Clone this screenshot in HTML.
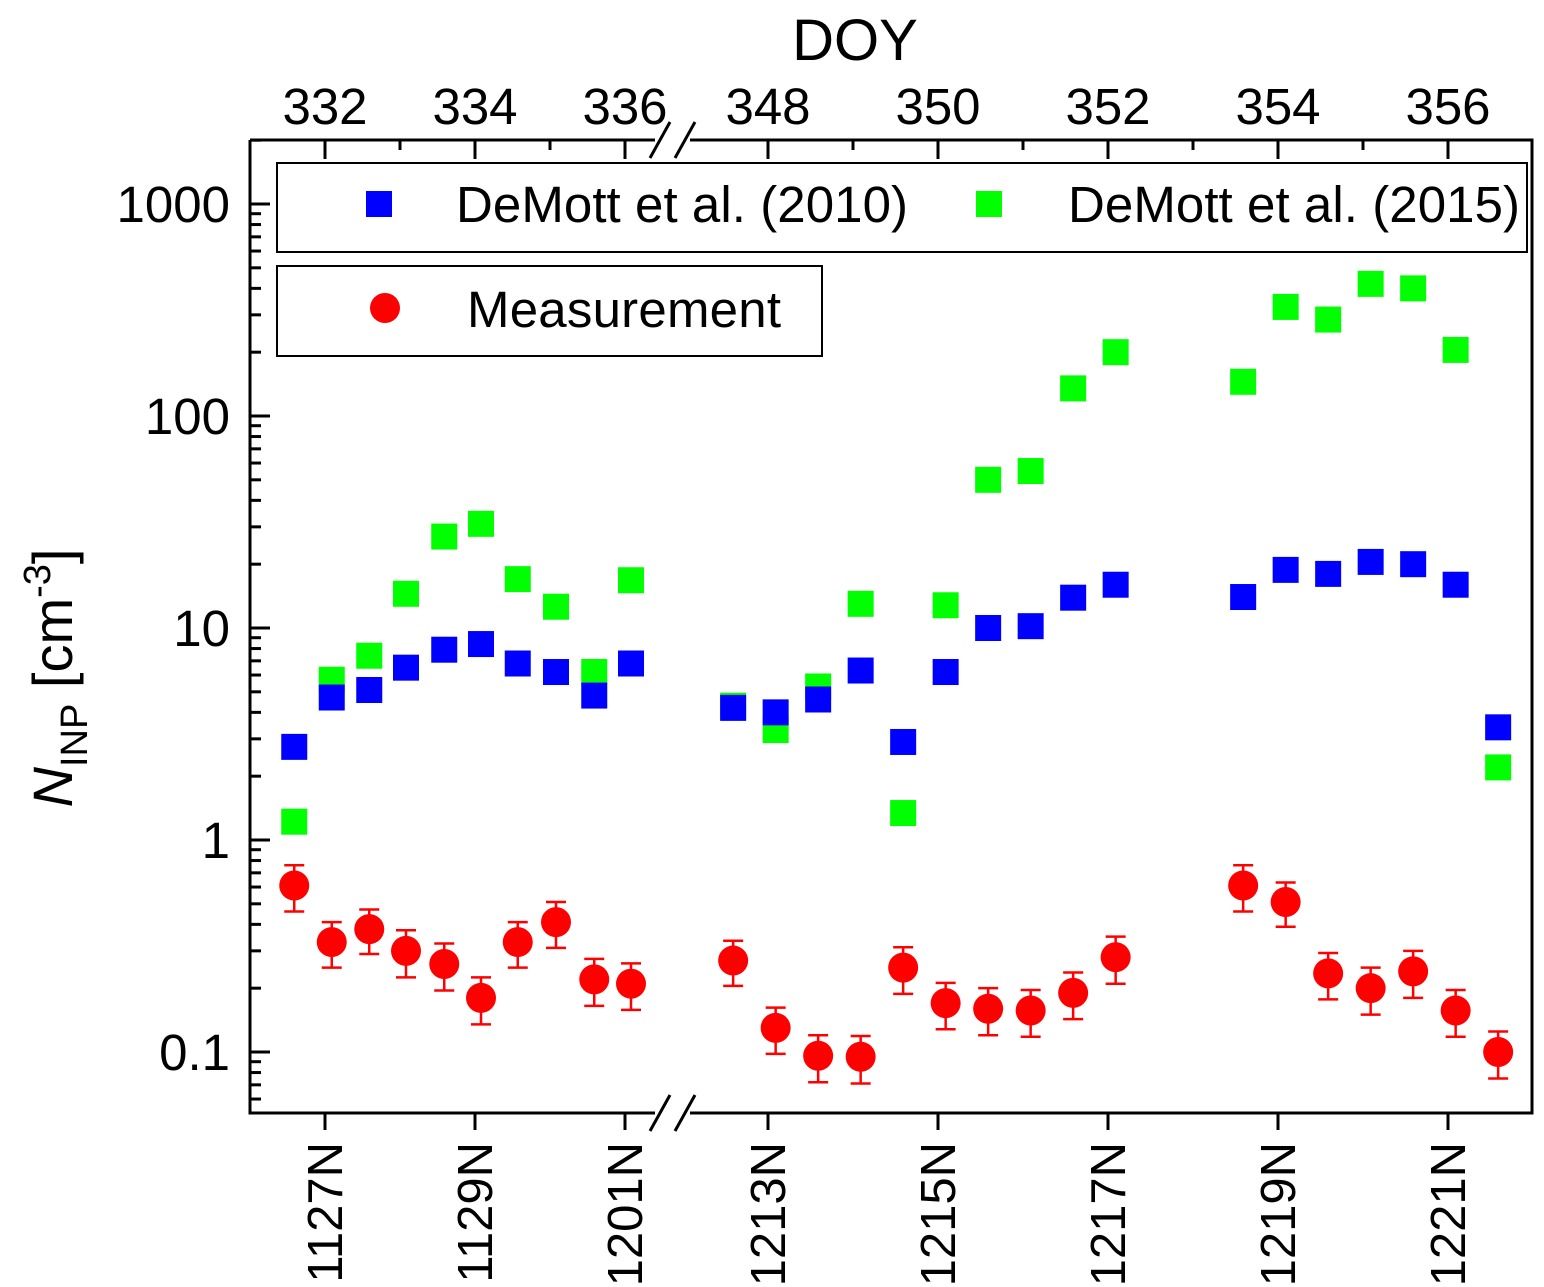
<!DOCTYPE html>
<html><head><meta charset="utf-8"><style>
body{margin:0;background:#fff}
svg{display:block;font-family:"Liberation Sans",Arial,sans-serif}
</style></head><body>
<svg id="chart" width="1544" height="1287" viewBox="0 0 1544 1287" xmlns="http://www.w3.org/2000/svg">
<g id="axes"></g>
<g id="marks"></g>
<g>
<rect x="277" y="163" width="1250" height="89" fill="#fff" stroke="#000" stroke-width="2"/>
<rect x="366" y="191" width="26" height="26" fill="#0000ff"/>
<text x="456" y="222" font-size="51" textLength="452">DeMott et al. (2010)</text>
<rect x="976" y="191" width="26" height="26" fill="#00ff00"/>
<text x="1068" y="222" font-size="51" textLength="452">DeMott et al. (2015)</text>
</g>
<g>
<rect x="277" y="266" width="545" height="90" fill="#fff" stroke="#000" stroke-width="2"/>
<circle cx="385" cy="308" r="15" fill="#ff0000"/>
<text x="467" y="327" font-size="51" textLength="314">Measurement</text>
</g>
<text x="855" y="60" font-size="58" text-anchor="middle">DOY</text>
<text transform="translate(72,678) rotate(-90)" font-size="56" text-anchor="middle"><tspan font-style="italic">N</tspan><tspan font-size="38" dy="15">INP</tspan><tspan dy="-15"> [cm</tspan><tspan font-size="38" dy="-22">-3</tspan><tspan dy="22">]</tspan></text>
</svg>
<script>
const doy = [331.59,332.09,332.59,333.08,333.59,334.08,334.57,335.08,335.59,336.08,
 347.59,348.09,348.59,349.09,349.59,350.09,350.59,351.09,351.59,352.09,353.59,354.09,354.59,355.09,355.59,356.09,356.59];
const demott2010 = [2.75,4.7,5.1,6.5,7.9,8.4,6.8,6.2,4.8,6.8,
 4.2,4.0,4.6,6.3,2.9,6.2,10,10.2,13.9,16,14,18.8,18,20.5,20,16,3.4];
const demott2015 = [1.22,5.7,7.4,14.5,27,31,17,12.6,6.2,16.8,
 4.3,3.3,5.3,13,1.34,12.8,50,55,135,200,145,327,285,420,400,205,2.2];
const measurement = [0.61,0.33,0.38,0.30,0.26,0.18,0.33,0.41,0.22,0.21,
 0.27,0.13,0.096,0.095,0.25,0.17,0.16,0.157,0.19,0.28,0.61,0.51,0.235,0.2,0.24,0.157,0.10];
const measErr = [0.15,0.08,0.09,0.075,0.065,0.045,0.08,0.1,0.055,0.052,
 0.065,0.032,0.024,0.024,0.062,0.042,0.04,0.039,0.047,0.07,0.15,0.12,0.058,0.05,0.06,0.039,0.025];
const yTicks = [0.1,1,10,100,1000];
const yTickLabels = ["0.1","1","10","100","1000"];
const topTicks = [332,334,336,348,350,352,354,356];
const bottomLabels = ["1127N","1129N","1201N","1213N","1215N","1217N","1219N","1221N"];

const NS="http://www.w3.org/2000/svg";
const L=250,R=1532,T=140,B=1113;
function y(v){return 840-212*Math.log10(v);}
function x(d){return d<340 ? 325+(d-332)*75 : 768+(d-348)*85;}
function mk(tag,attrs,parent,text){const e=document.createElementNS(NS,tag);for(const k in attrs)e.setAttribute(k,attrs[k]);if(text!==undefined)e.textContent=text;parent.appendChild(e);return e;}
const ax=document.getElementById('axes'), mg=document.getElementById('marks');
const st={stroke:'#000','stroke-width':3,fill:'none'};
let p=mk('path',Object.assign({d:`M${L},${T}V${B}H655M690,${B}H${R}V${T}H690M655,${T}H${L}`},st),ax);


[[T],[B]].forEach(([yy])=>{
 const b=mk('path',Object.assign({d:`M650,${yy+18}L670,${yy-18}M675,${yy+18}L695,${yy-18}`},st),ax);
 
 
});
yTicks.forEach((v,i)=>{
 const t=mk('line',Object.assign({x1:L,x2:L+20,y1:y(v),y2:y(v)},st),ax);
 
 
 const tx=mk('text',{x:L-20,y:y(v)+18,'font-size':51,'text-anchor':'end'},ax,yTickLabels[i]);
 
 
});
for(let dec=0.01;dec<2000;dec*=10){for(let k=2;k<=9;k++){const v=dec*k;const yy=y(v);if(yy<T||yy>B)continue;
 const t=mk('line',Object.assign({x1:L,x2:L+11,y1:yy,y2:yy},st),ax);
 
 }}
topTicks.forEach((d,i)=>{
 const xx=x(d);
 const t=mk('line',Object.assign({x1:xx,x2:xx,y1:T,y2:T+19},st),ax);
 
 
 const tl=mk('text',{x:xx,y:T-16,'font-size':51,'text-anchor':'middle'},ax,String(d));
 
 
 const b=mk('line',Object.assign({x1:xx,x2:xx,y1:B,y2:B+17},st),ax);
 
 
 const bl=mk('text',{transform:`translate(${xx+17},1142) rotate(-90)`,'font-size':49,'text-anchor':'end'},ax,bottomLabels[i]);
 
 
});
[333,335,349,351,353,355].forEach(d=>{const xx=x(d);
 const t=mk('line',Object.assign({x1:xx,x2:xx,y1:T,y2:T+10},st),ax);
 
 });
doy.forEach((d,i)=>{
 const xx=x(d);
 const g=mk('rect',{x:xx-13,y:y(demott2015[i])-13,width:26,height:26,fill:'#00ff00'},mg);
 
 
});
doy.forEach((d,i)=>{
 const xx=x(d);
 const b=mk('rect',{x:xx-13,y:y(demott2010[i])-13,width:26,height:26,fill:'#0000ff'},mg);
 
 
});
doy.forEach((d,i)=>{
 const xx=x(d),v=measurement[i],e=measErr[i];
 const y1=y(v+e),y2=y(v-e);
 const eb=mk('path',{d:`M${xx},${y1}V${y2}M${xx-10},${y1}H${xx+10}M${xx-10},${y2}H${xx+10}`,stroke:'#ff0000','stroke-width':2.5,fill:'none'},mg);
 
 
 const c=mk('circle',{cx:xx,cy:y(v),r:15,fill:'#ff0000'},mg);
 
 
});
</script>
</body></html>
